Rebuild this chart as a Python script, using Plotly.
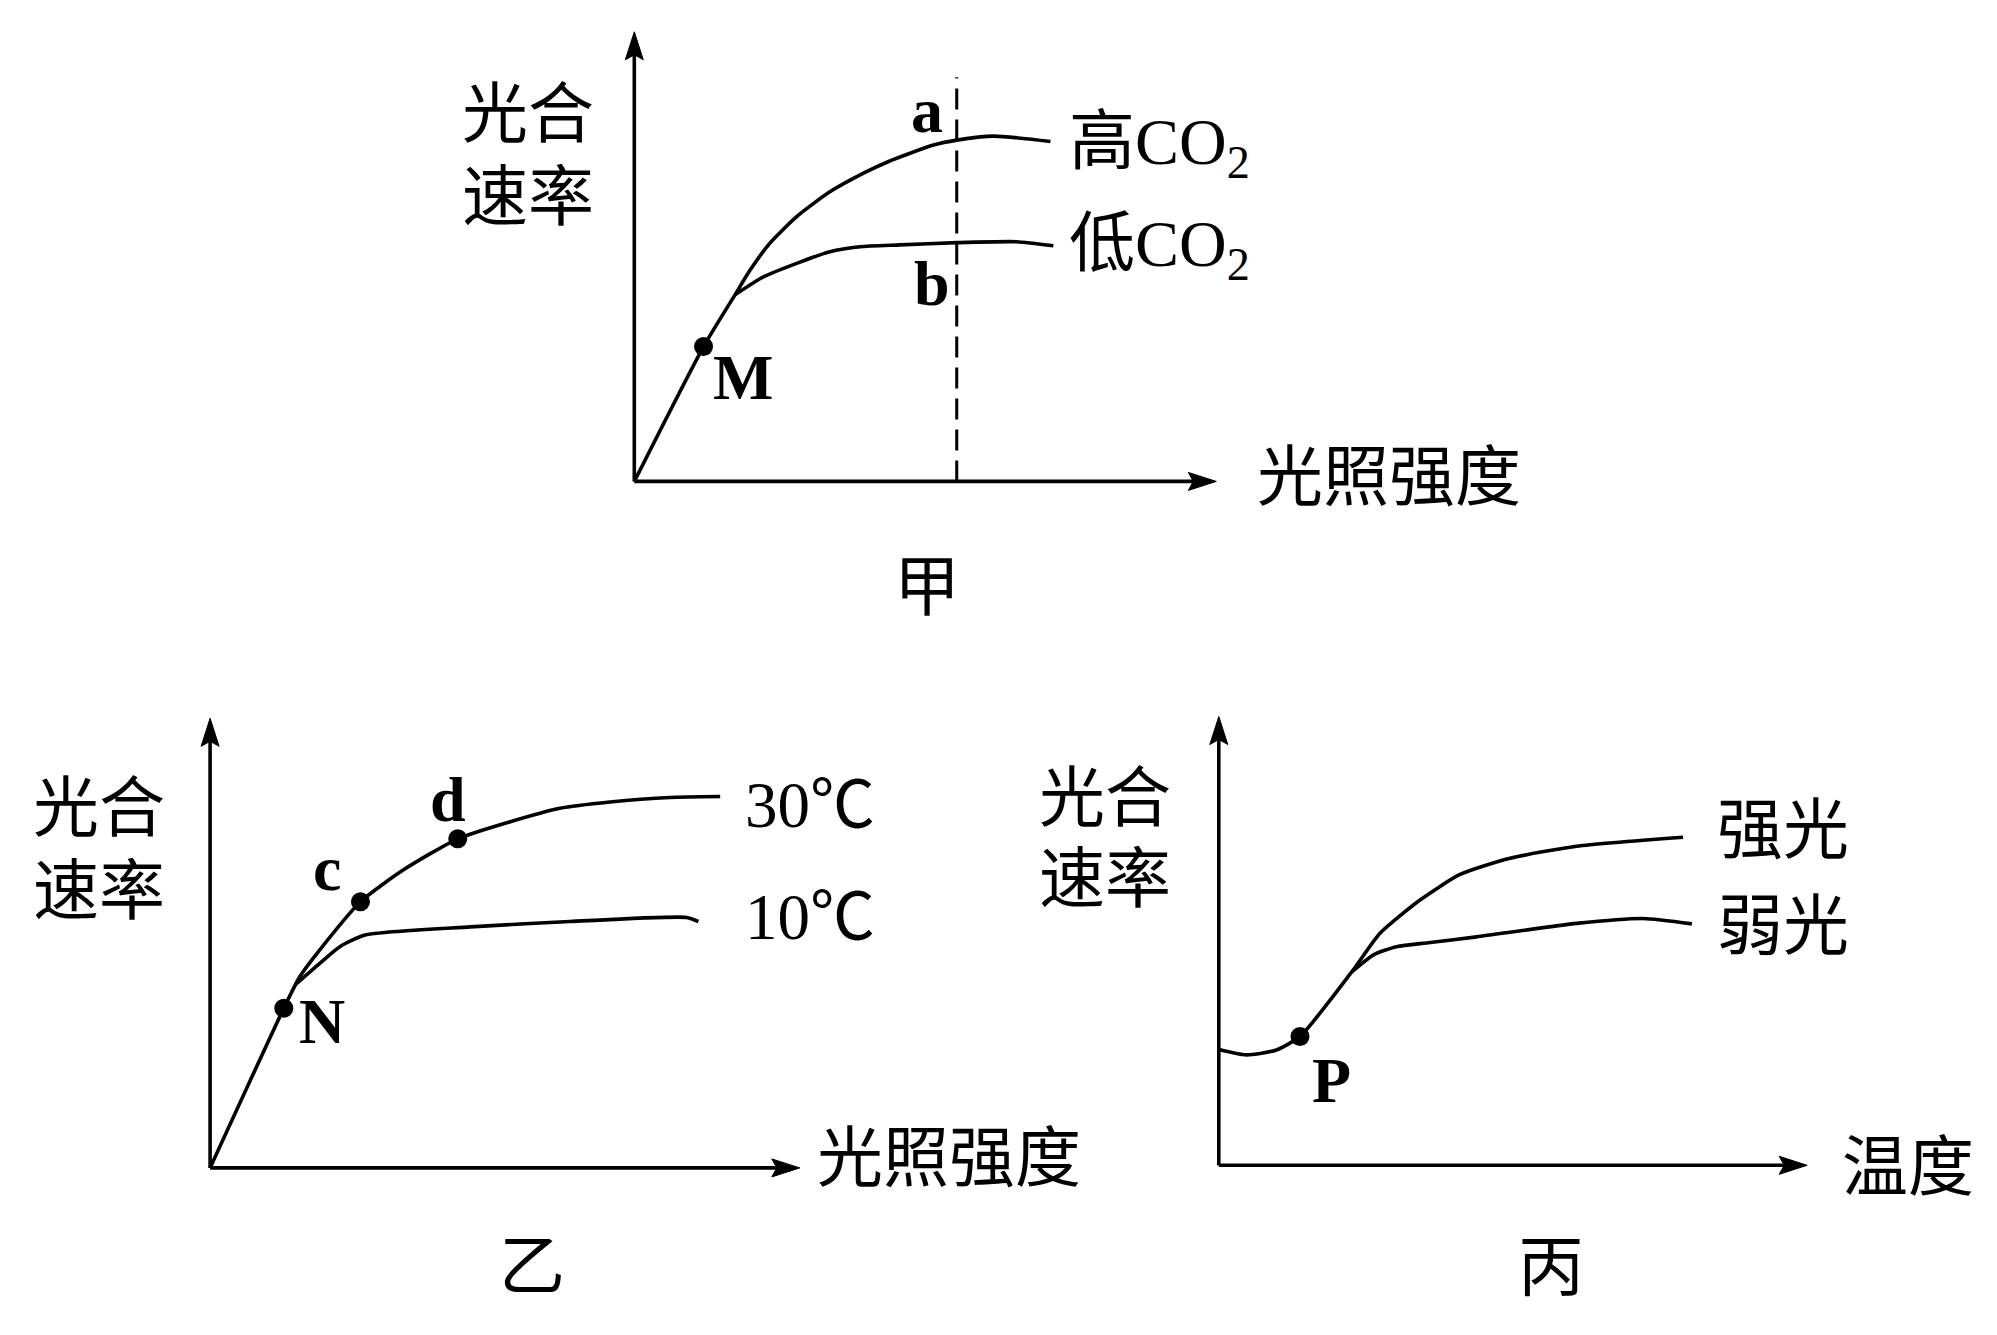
import plotly.graph_objects as go

W, H = 1997, 1335

# ---------------- data (panel units: axis arrow tip = 100) ----------------
# 甲: photosynthesis rate vs light intensity at high / low CO2
jia_high_x = [0, 11.9, 17.3, 19.9, 23.3, 27.9, 33.6, 39.3, 43.6, 51.4, 55.4, 61.7, 71.5]
jia_high_y = [0, 30.0, 41.5, 47.0, 53.0, 58.9, 64.4, 68.5, 71.1, 74.8, 75.9, 76.8, 75.6]
jia_low_x = [17.3, 22.2, 27.9, 33.6, 38.8, 45.6, 55.4, 65.7, 72.0]
jia_low_y = [41.5, 45.5, 48.5, 51.1, 52.2, 52.6, 53.1, 53.3, 52.4]
jia_pts_x = [11.9]
jia_pts_y = [30.0]
jia_dash_x = [55.4, 55.4]
jia_dash_y = [0, 89.9]

# 乙: photosynthesis rate vs light intensity at 30℃ / 10℃
yi_30_x = [0, 12.5, 15.2, 18.6, 25.5, 32.8, 42.0, 50.9, 59.3, 67.8, 78.0, 86.5]
yi_30_y = [0, 35.5, 42.5, 48.5, 59.2, 66.3, 73.2, 77.0, 80.0, 81.4, 82.4, 82.6]
yi_10_x = [14.4, 18.6, 22.0, 26.3, 44.1, 61.0, 80.8, 82.8]
yi_10_y = [40.7, 45.5, 49.2, 51.8, 53.6, 54.8, 55.7, 54.8]
yi_pts_x = [12.5, 25.5, 42.0]
yi_pts_y = [35.5, 59.2, 73.2]

# 丙: photosynthesis rate vs temperature under strong / weak light
bing_strong_x = [0, 4.7, 9.8, 13.8, 22.6, 27.4, 34.2, 41.0, 49.5, 60.8, 78.9]
bing_strong_y = [25.8, 24.6, 25.7, 28.7, 43.1, 51.7, 59.1, 64.8, 68.4, 71.1, 73.1]
bing_weak_x = [22.6, 26.3, 30.2, 35.6, 43.8, 60.8, 72.1, 80.4]
bing_weak_y = [43.1, 46.9, 48.7, 49.6, 50.9, 53.9, 55.0, 53.8]
bing_pts_x = [13.8]
bing_pts_y = [28.7]

# ---------------- layout of panels (pixels) ----------------
panels = {
    "jia": dict(ox=634.3, oy=481.4, lx=582.0, ly=449.6, xa="x", ya="y", ax="xaxis", ay="yaxis"),
    "yi": dict(ox=210.1, oy=1167.9, lx=589.7, ly=449.6, xa="x2", ya="y2", ax="xaxis2", ay="yaxis2"),
    "bing": dict(ox=1218.8, oy=1165.3, lx=588.4, ly=448.8, xa="x3", ya="y3", ax="xaxis3", ay="yaxis3"),
}

FONT = "Liberation Serif, Noto Sans CJK SC"
LW = 3.6

fig = go.Figure()
layout = dict(width=W, height=H, margin=dict(l=0, r=0, t=0, b=0),
              paper_bgcolor="white", plot_bgcolor="rgba(0,0,0,0)",
              showlegend=False, shapes=[], annotations=[])

for key, p in panels.items():
    sx, sy = p["lx"] / 100.0, p["ly"] / 100.0
    xr = [-p["ox"] / sx, (W - p["ox"]) / sx]
    yr = [(p["oy"] - H) / sy, p["oy"] / sy]
    common = dict(domain=[0, 1], visible=False, fixedrange=True)
    layout[p["ax"]] = dict(range=xr, anchor=p["ya"], **common)
    layout[p["ay"]] = dict(range=yr, anchor=p["xa"], **common)
    # axis lines
    L, wd, n = 28.0, 18.0, 5.0
    layout["shapes"].append(dict(type="line", xref=p["xa"], yref=p["ya"], x0=0, y0=0,
                                 x1=100 - (L - n) / sx, y1=0, line=dict(color="black", width=LW)))
    layout["shapes"].append(dict(type="line", xref=p["xa"], yref=p["ya"], x0=0, y0=0,
                                 x1=0, y1=100 - (L - n) / sy, line=dict(color="black", width=LW)))
    # arrowheads
    px = (f"M 100,0 L {100 - L / sx},{wd / 2 / sy} L {100 - (L - n) / sx},0 "
          f"L {100 - L / sx},{-wd / 2 / sy} Z")
    py = (f"M 0,100 L {wd / 2 / sx},{100 - L / sy} L 0,{100 - (L - n) / sy} "
          f"L {-wd / 2 / sx},{100 - L / sy} Z")
    for path in (px, py):
        layout["shapes"].append(dict(type="path", xref=p["xa"], yref=p["ya"], path=path,
                                     fillcolor="black", line=dict(color="black", width=1)))


def curve(x, y, p, dash=None, width=LW, shape="spline"):
    fig.add_trace(go.Scatter(x=x, y=y, mode="lines", xaxis=p["xa"], yaxis=p["ya"],
                             line=dict(color="black", width=width, shape=shape,
                                       smoothing=0.6, dash=dash),
                             hoverinfo="skip", cliponaxis=False))


def dots(x, y, p):
    fig.add_trace(go.Scatter(x=x, y=y, mode="markers", xaxis=p["xa"], yaxis=p["ya"],
                             marker=dict(color="black", size=19), hoverinfo="skip",
                             cliponaxis=False))


def label(text, x, y, p, size=64, xanchor="center", bold=False):
    if bold:
        text = f"<b>{text}</b>"
    layout["annotations"].append(dict(text=text, x=x, y=y, xref=p["xa"], yref=p["ya"],
                                      showarrow=False, xanchor=xanchor, yanchor="middle",
                                      font=dict(family=FONT, size=size, color="black")))


CJK = 66


def ylabel(x, y_top, y_bot, p):
    label("光合", x, y_top, p, size=CJK)
    label("速率", x, y_bot, p, size=CJK)


pj = panels["jia"]
curve(jia_dash_x, jia_dash_y, pj, dash="21px,10px", width=3.0, shape="linear")
curve(jia_high_x, jia_high_y, pj)
curve(jia_low_x, jia_low_y, pj)
dots(jia_pts_x, jia_pts_y, pj)
ylabel(-18.2, 81.6, 63.2, pj)
label("a", 50.3, 82.6, pj, bold=True)
label("b", 51.1, 44.1, pj, bold=True)
label("M", 18.6, 23.0, pj, bold=True)
label("高CO<sub>2</sub>", 74.4, 74.5, pj, size=66, xanchor="left")
label("低CO<sub>2</sub>", 74.4, 51.9, pj, size=66, xanchor="left")
label("光照强度", 106.6, 0.8, pj, size=CJK, xanchor="left")
label("甲", 50.3, -23.7, pj, size=CJK)

py_ = panels["yi"]
curve(yi_30_x, yi_30_y, py_)
curve(yi_10_x, yi_10_y, py_)
dots(yi_pts_x, yi_pts_y, py_)
ylabel(-18.8, 79.9, 61.5, py_)
label("d", 40.3, 82.0, py_, bold=True)
label("c", 19.8, 66.6, py_, bold=True)
label("N", 19.0, 32.6, py_, bold=True)
label("30℃", 90.3, 80.7, py_, size=65, xanchor="left")
label("10℃", 90.3, 55.8, py_, size=65, xanchor="left")
label("光照强度", 102.6, 2.0, py_, size=CJK, xanchor="left")
label("乙", 54.6, -22.0, py_, size=CJK)

pb = panels["bing"]
curve(bing_strong_x, bing_strong_y, pb)
curve(bing_weak_x, bing_weak_y, pb)
dots(bing_pts_x, bing_pts_y, pb)
ylabel(-19.3, 81.7, 63.7, pb)
label("强光", 84.4, 74.7, pb, size=CJK, xanchor="left")
label("弱光", 84.4, 53.1, pb, size=CJK, xanchor="left")
label("P", 19.1, 19.0, pb, bold=True)
label("温度", 105.6, -0.6, pb, size=CJK, xanchor="left")
label("丙", 56.5, -22.7, pb, size=CJK)

fig.update_layout(**layout)
fig.write_html("out.html", include_plotlyjs=True, config={"displayModeBar": False},
               post_script="document.body.style.margin='0';document.body.style.overflow='hidden';")
